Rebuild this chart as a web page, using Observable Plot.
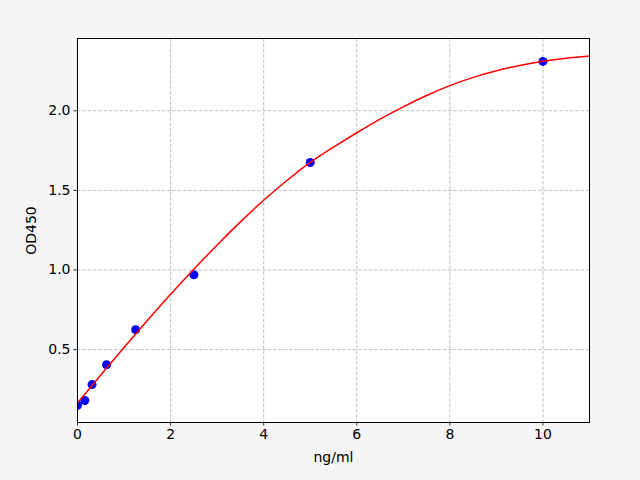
<!DOCTYPE html>
<html>
<head>
<meta charset="utf-8">
<script src="https://cdn.jsdelivr.net/npm/d3@7"></script>
<script src="https://cdn.jsdelivr.net/npm/@observablehq/plot@0.6"></script>
<style>
	body { margin: 0; background: #f5f5f5; }
</style>
</head>
<body>
<script>
// data: standards (measured)
const conc = [0, 0.156, 0.3125, 0.625, 1.25, 2.5, 5, 10];
const od = [0.15, 0.18, 0.28, 0.405, 0.625, 0.97, 1.675, 2.31];

// fitted curve
const curveX = [0, 0.5, 1, 1.5, 2, 2.5, 3, 3.5, 4, 4.5, 5, 5.5, 6, 6.5, 7, 7.5, 8, 8.5, 9, 9.5, 10, 10.5, 11];
const curveY = [0.165, 0.34, 0.513, 0.682, 0.847, 1.005, 1.157, 1.302, 1.438, 1.562, 1.676, 1.772, 1.862, 1.948, 2.025, 2.096, 2.158, 2.21, 2.252, 2.285, 2.311, 2.33, 2.344];

const xTicks = [0, 2, 4, 6, 8, 10];
const yTicks = [0.5, 1.0, 1.5, 2.0];

const points = conc.map((c, i) => ({x: c, y: od[i]}));
const curve = curveX.map((c, i) => ({x: c, y: curveY[i]}));

const dash = '3.5,1.8';

// plot
let fig = Plot.plot({
	width: 640,
	height: 480,
	marginLeft: 77,
	marginRight: 51,
	marginTop: 38,
	marginBottom: 58,
	style: {background: '#f5f5f5', fontFamily: 'DejaVu Sans', fontSize: '14px', color: 'black'},
	x: {domain: [0, 11]},
	y: {domain: [0.042, 2.454]},
	marks: [
		Plot.frame({fill: 'white'}),
		Plot.gridX(xTicks, {stroke: '#b0b0b0', strokeOpacity: 1, strokeWidth: 0.8, strokeDasharray: dash}),
		Plot.gridY(yTicks, {stroke: '#b0b0b0', strokeOpacity: 1, strokeWidth: 0.8, strokeDasharray: dash}),
		Plot.axisX(xTicks, {tickSize: 3.5, tickPadding: 3.5, strokeWidth: 0.8, label: 'ng/ml', labelAnchor: 'center', labelArrow: 'none', labelOffset: 39}),
		Plot.axisY(yTicks, {tickSize: 3.5, tickPadding: 3.5, strokeWidth: 0.8, tickFormat: d3.format('.1f'), label: 'OD450', labelAnchor: 'center', labelArrow: 'none', labelOffset: 51}),
		Plot.dot(points, {x: 'x', y: 'y', r: 4.5, fill: 'blue', stroke: 'none', clip: true}),
		Plot.line(curve, {x: 'x', y: 'y', stroke: 'red', strokeWidth: 1.5, curve: 'natural'}),
		Plot.frame({stroke: 'black', strokeWidth: 1})
	]
});

document.querySelector('body').append(fig);
</script>
</body>
</html>
